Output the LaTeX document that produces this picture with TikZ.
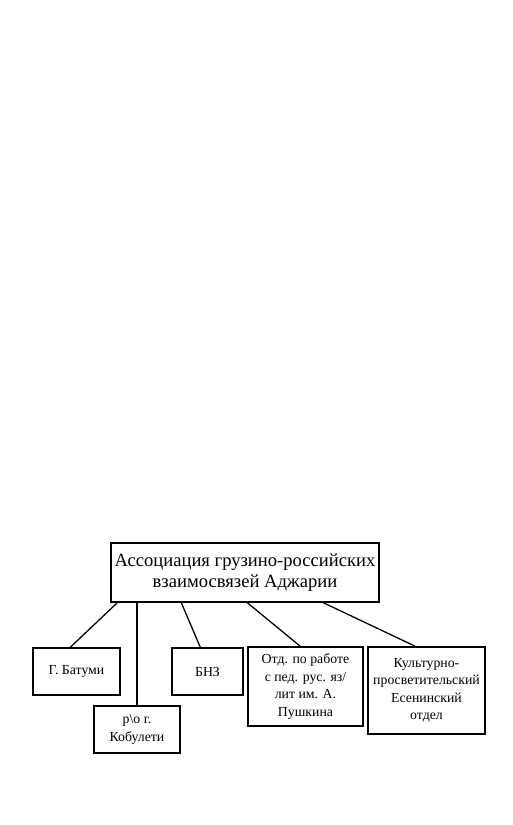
\documentclass[tikz,border=0pt]{standalone}
\usepackage{fontspec}
\setmainfont{Liberation Serif}
\begin{document}
\begin{tikzpicture}[x=1pt,y=-1pt,
  box/.style={draw=black,line width=1.4pt,align=center,inner sep=0pt,font=\fontsize{13.8}{17.5}\selectfont},
  topbox/.style={box,font=\fontsize{18.6}{21.5}\selectfont},
  link/.style={draw=black,line width=1.3pt}]
\useasboundingbox[fill=white] (0,0) rectangle (512,825);
\node[topbox,minimum width=268pt,minimum height=59pt] (top) at (245,572.5) {Ассоциация грузино-российских\\взаимосвязей Аджарии};
\node[box,minimum width=87pt,minimum height=47pt] (bat) at (76.5,671.5) {Г. Батуми};
\node[box,minimum width=86pt,minimum height=47pt] (kob) at (137,729.5) {р\textbackslash о г.\\Кобулети};
\node[box,minimum width=71pt,minimum height=47pt] (bnz) at (207.5,671.5) {БНЗ};
\node[box,minimum width=115pt,minimum height=79pt] (otd) at (305.5,686.5) {Отд. по работе\\с пед. рус. яз/\\лит им. А.\\Пушкина};
\node[box,minimum width=117pt,minimum height=87pt] (kult) at (426.5,690.5) {Культурно-\\просветительский\\Есенинский\\отдел};
\draw[link] ([xshift=7pt]top.south west) -- ([xshift=38pt]bat.north west);
\draw[link] (kob.north |- top.south) -- (kob.north);
\draw[link] ([xshift=71pt]top.south west) -- ([xshift=29pt]bnz.north west);
\draw[link] ([xshift=137pt]top.south west) -- ([xshift=53pt]otd.north west);
\draw[link] ([xshift=213pt]top.south west) -- ([xshift=48pt]kult.north west);
\end{tikzpicture}
\end{document}
